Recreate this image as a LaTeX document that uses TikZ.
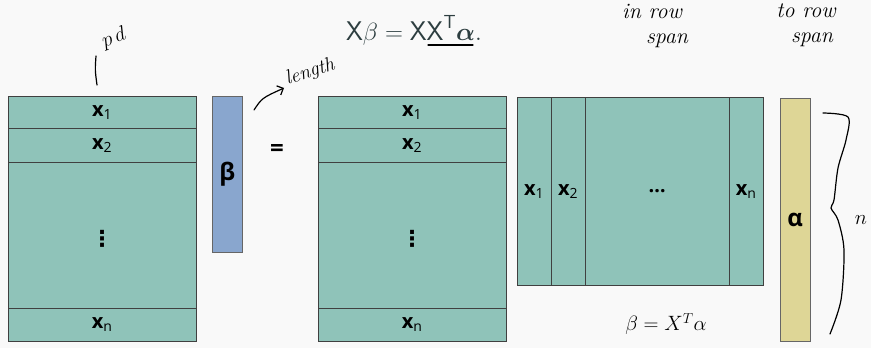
\documentclass[tikz,border=0pt]{standalone}
\usepackage{fontspec}
\usepackage{amsmath,bm}
\newfontfamily\lblfont{Open Sans}
\newfontfamily\symfont{DejaVu Sans}
\usetikzlibrary{positioning,arrows.meta}
\definecolor{rowTeal}{RGB}{143,195,185}
\definecolor{betaBlue}{RGB}{137,166,206}
\definecolor{alphaGold}{RGB}{222,214,150}
\definecolor{bgPaper}{RGB}{249,249,249}
\definecolor{eqSlate}{RGB}{45,62,64}
\newcommand{\xlbl}[1]{x\textsubscript{\mdseries\fontsize{14}{14}\selectfont #1}}
\begin{document}
\begin{tikzpicture}[x=1pt,y=-1pt,
    matBox/.style={draw=black!75,fill=rowTeal,inner sep=0pt,anchor=north west,
      font=\lblfont\bfseries\fontsize{20}{24}\selectfont},
    vecBox/.style={draw=black!60,inner sep=0pt,anchor=north west,
      minimum width=30pt,font=\lblfont\bfseries\fontsize{24}{26}\selectfont},
    inkNote/.style={font=\itshape\fontsize{22}{24}\selectfont,inner sep=0pt},
    inkLine/.style={line width=1.2pt,line cap=round},
    dotsMark/.style={font=\symfont\bfseries\fontsize{22}{24}\selectfont,inner sep=0pt},
]
\useasboundingbox[fill=bgPaper] (0,0) rectangle (871,348);
% Equation
\node[text=eqSlate,font=\fontsize{27}{30}\selectfont,inner sep=0pt] (eqn) at (414,30)
  {$\mathsf{X}\beta = \mathsf{XX}^{\mathsf{T}}\bm{\alpha}.$};
\coordinate (ulA) at (428,45);
\coordinate (ulB) at (473,45);
\draw[inkLine] (ulA) -- (ulB);
% Notes
\node[inkNote] (rowA) at (652,11) {in row};
\node[inkNote] (spanA) at (667,41) {span};
\node[inkNote] (rowB) at (806,11) {to row};
\node[inkNote] (spanB) at (812,40) {span};
% Left X (rows)
\node[matBox,minimum width=188pt,minimum height=245pt] (xL) at (8,96) {};
\node[matBox,minimum width=188pt,minimum height=32pt] (xLa) at (8,96) {\xlbl{1}};
\node[matBox,minimum width=188pt,minimum height=34pt] (xLb) at (8,128) {\xlbl{2}};
\node[matBox,minimum width=188pt,minimum height=33pt] (xLn) at (8,308) {\xlbl{n}};
\node[dotsMark] (dotsL) at (102,239) {⋮};
% p d mark
\coordinate (pdA) at (97,85);
\coordinate (pdB) at (96,56);
\draw[inkLine] (pdA) .. controls (95,70) .. (pdB);
\node[inkNote,rotate=20] (pdText) at (114,38) {$p\,d$};
% beta
\node[vecBox,fill=betaBlue,minimum height=156pt] (beta) at (212,96) {β};
\coordinate (lenA) at (254,110);
\coordinate (lenB) at (284,88);
\draw[inkLine,-{Straight Barb[length=5pt]}] (lenA) .. controls (262,98) .. (lenB);
\node[inkNote,rotate=18,anchor=west,font=\itshape\fontsize{20}{22}\selectfont] (lenText) at (286,80) {length};
% equals
\node[font=\lblfont\bfseries\fontsize{24}{26}\selectfont] (eqSign) at (277,150) {=};
% Right X (rows)
\node[matBox,minimum width=188pt,minimum height=245pt] (xR) at (318,96) {};
\node[matBox,minimum width=188pt,minimum height=32pt] (xRa) at (318,96) {\xlbl{1}};
\node[matBox,minimum width=188pt,minimum height=34pt] (xRb) at (318,128) {\xlbl{2}};
\node[matBox,minimum width=188pt,minimum height=33pt] (xRn) at (318,308) {\xlbl{n}};
\node[dotsMark] (dotsR) at (412,239) {⋮};
% X transpose (columns)
\node[matBox,minimum width=34pt,minimum height=188pt] (cA) at (517,97) {\xlbl{1}};
\node[matBox,minimum width=34pt,minimum height=188pt] (cB) at (551,97) {\xlbl{2}};
\node[matBox,minimum width=144pt,minimum height=188pt] (cDots) at (585,97) {\ldots};
\node[matBox,minimum width=34pt,minimum height=188pt] (cN) at (729,97) {\xlbl{n}};
% alpha
\node[vecBox,fill=alphaGold,minimum height=243pt] (alpha) at (780,98) {α};
% brace n
\draw[inkLine] plot[smooth] coordinates {(823,113) (848,117) (846,140) (838,168) (834,200) (831,208) (838,220) (844,250) (841,300) (830,334)};
\node[inkNote] (nText) at (861,220) {$n$};
% beta = X^T alpha
\node[inkNote,font=\fontsize{22}{24}\selectfont] (betaNote) at (666,324) {$\beta = X^{T}\alpha$};
\end{tikzpicture}
\end{document}
